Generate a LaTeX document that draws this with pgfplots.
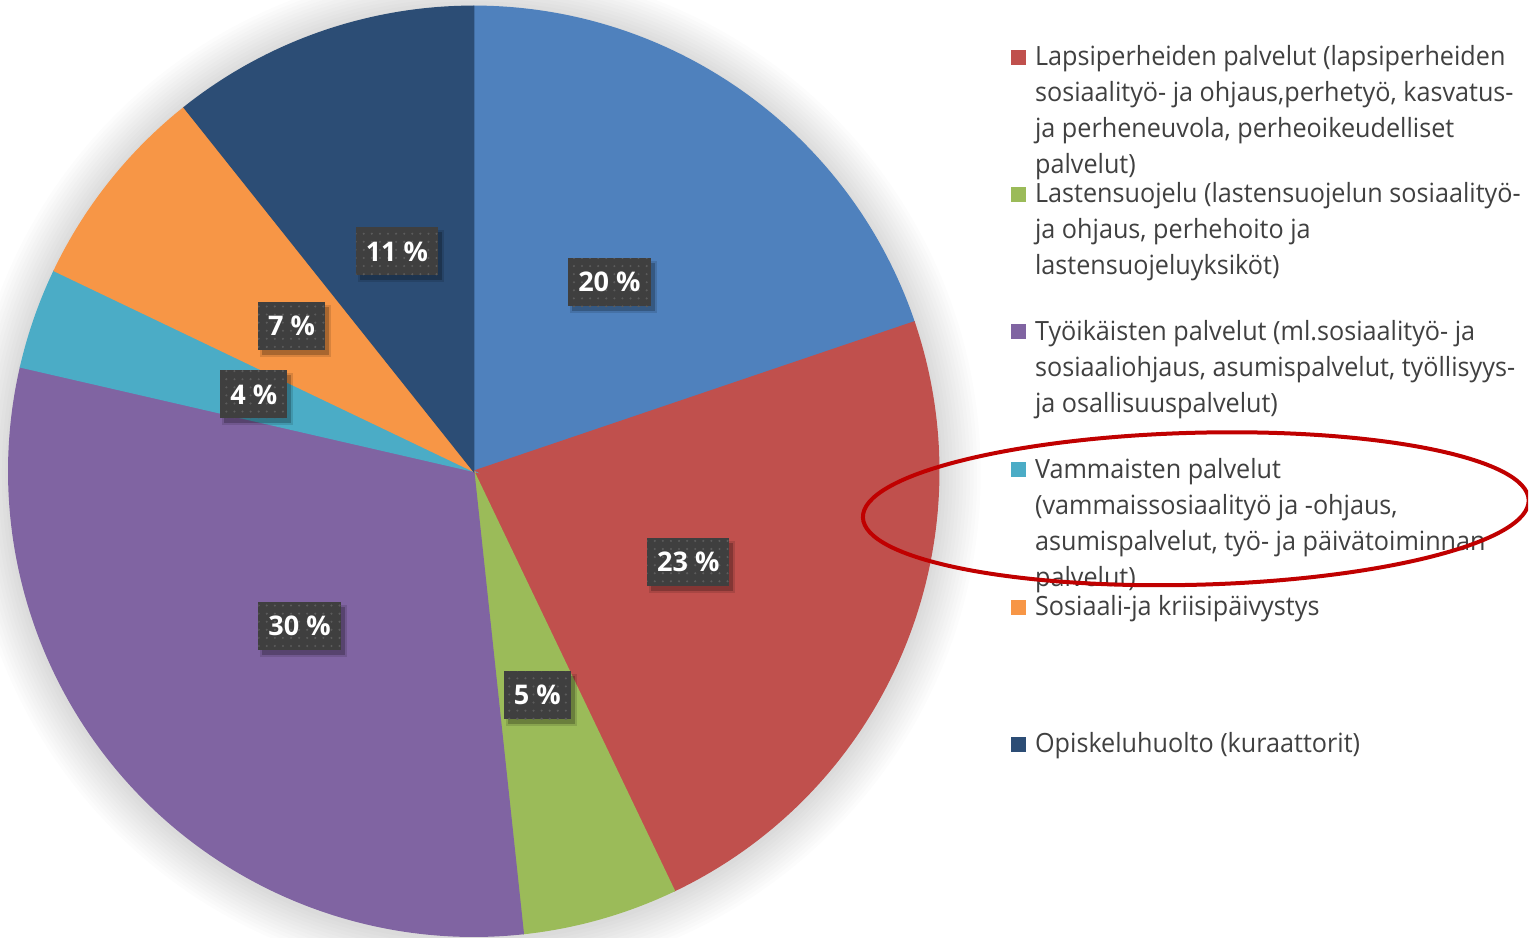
\documentclass[border=0pt]{standalone}
\usepackage{fontspec}
\setmainfont{Open Sans}
\newfontfamily\legff[FakeStretch=0.95]{Open Sans}
\usepackage{pgfplots}
\pgfplotsset{compat=1.18}
\usepackage{pgfplotstable}
\usetikzlibrary{patterns.meta}

\definecolor{sc0}{HTML}{4F81BD}
\definecolor{sc1}{HTML}{C0504D}
\definecolor{sc2}{HTML}{9BBB59}
\definecolor{sc3}{HTML}{8064A2}
\definecolor{sc4}{HTML}{4BACC6}
\definecolor{sc5}{HTML}{F79646}
\definecolor{sc6}{HTML}{2C4D75}
\definecolor{legtext}{HTML}{404040}
\definecolor{lblgray}{HTML}{3F3F3F}
\definecolor{lbldot}{HTML}{5C5C5C}
\definecolor{ellred}{HTML}{C00000}

% shares of the pie (percent), clockwise from 12 o'clock
\pgfplotstableread{
share lab
19.8 20
23.1 23
5.4  5
30.3 30
3.5  4
7.2  7
10.7 11
}\piedata

\newcommand\prepPie{%
 \gdef\cum{0}%
 \foreach \i in {0,...,6}{%
  \pgfplotstablegetelem{\i}{share}\of\piedata\let\pv\pgfplotsretval
  \pgfplotstablegetelem{\i}{lab}\of\piedata\let\plab\pgfplotsretval
  \pgfmathsetmacro\psa{90-3.6*\cum}%
  \pgfmathsetmacro\pea{90-3.6*(\cum+\pv)}%
  \pgfmathsetmacro\pma{(\psa+\pea)/2}%
  \pgfmathsetmacro\plx{474+233*cos(\pma)}%
  \pgfmathsetmacro\ply{466+233*sin(\pma)}%
  \pgfmathsetmacro\psx{\plx+4}%
  \pgfmathsetmacro\psy{\ply-5}%
  \pgfmathsetmacro\pnc{\cum+\pv}%
  \expandafter\xdef\csname sa\i\endcsname{\psa}%
  \expandafter\xdef\csname ea\i\endcsname{\pea}%
  \expandafter\xdef\csname lx\i\endcsname{\plx}%
  \expandafter\xdef\csname ly\i\endcsname{\ply}%
  \expandafter\xdef\csname sx\i\endcsname{\psx}%
  \expandafter\xdef\csname sy\i\endcsname{\psy}%
  \expandafter\xdef\csname lab\i\endcsname{\plab}%
  \xdef\cum{\pnc}%
 }}
\prepPie

\newcommand\legfont{\legff\fontsize{7.54pt}{10.24pt}\selectfont}
\newcommand\lblfont{\bfseries\fontsize{7.7pt}{9pt}\selectfont}
\newcommand\lline[2]{\node[anchor=base west,inner sep=0pt,text=legtext,font=\legfont] at (axis cs:1035,{937-#1}) {#2};}
\newcommand\lsq[2]{\fill[#1] (axis cs:1012,{937-#2-7.5}) rectangle (axis cs:1027,{937-#2+7.5});}
\tikzset{lblbox/.style={font=\lblfont, minimum height=0.48cm, inner xsep=0.1cm, inner ysep=0pt}}

\begin{document}
\begin{tikzpicture}
\begin{axis}[hide axis, x=0.01cm, y=0.01cm, xmin=0, xmax=1529, ymin=0, ymax=937,
  clip=true, anchor=south west, at={(0,0)}]
% soft outer shadow of the pie
\pgfplotsinvokeforeach{1,...,12}{\fill[black,opacity=0.012] (axis cs:474,464) circle[radius={4.65cm+#1*0.035cm}];}
% wedges
\pgfplotsinvokeforeach{0,...,6}{\filldraw[sc#1, line width=0.4pt] (axis cs:474,466) -- ++(\csname sa#1\endcsname:4.65cm) arc[start angle=\csname sa#1\endcsname, end angle=\csname ea#1\endcsname, radius=4.65cm] -- cycle;}
% data label shadows
\pgfplotsinvokeforeach{0,...,6}{\node[lblbox, fill=black, fill opacity=0.12, text opacity=0, minimum height=0.52cm, inner xsep=0.12cm]
  at (axis cs:\csname sx#1\endcsname,\csname sy#1\endcsname) {\csname lab#1\endcsname~\%};
  \node[lblbox, fill=black, fill opacity=0.22, text opacity=0]
  at (axis cs:\csname sx#1\endcsname,\csname sy#1\endcsname) {\csname lab#1\endcsname~\%};}
% data labels
\pgfplotsinvokeforeach{0,...,6}{\node[lblbox, preaction={fill=lblgray}, pattern={Dots[distance=2.3pt, radius=0.33pt]}, pattern color=lbldot, text=white]
  at (axis cs:\csname lx#1\endcsname,\csname ly#1\endcsname) {\csname lab#1\endcsname~\%};}
% legend
\lsq{sc1}{56.5}
\lline{65}{Lapsiperheiden palvelut (lapsiperheiden}
\lline{101}{sosiaalityö- ja ohjaus,perhetyö, kasvatus-}
\lline{137}{ja perheneuvola, perheoikeudelliset}
\lline{173}{palvelut)}
\lsq{sc2}{194}
\lline{202.5}{Lastensuojelu (lastensuojelun sosiaalityö-}
\lline{238.5}{ja ohjaus, perhehoito ja}
\lline{274.5}{lastensuojeluyksiköt)}
\lsq{sc3}{331}
\lline{340}{Työikäisten palvelut (ml.sosiaalityö- ja}
\lline{376}{sosiaaliohjaus, asumispalvelut, työllisyys-}
\lline{412}{ja osallisuuspalvelut)}
\lsq{sc4}{469.5}
\lline{478}{Vammaisten palvelut}
\lline{514}{(vammaissosiaalityö ja -ohjaus,}
\lline{550}{asumispalvelut, työ- ja päivätoiminnan}
\lline{586}{palvelut)}
\lsq{sc5}{607}
\lline{615.5}{Sosiaali-ja kriisipäivystys}
\lsq{sc6}{744}
\lline{752.5}{Opiskeluhuolto (kuraattorit)}
% highlight ellipse
\draw[ellred, line width=0.04cm, rotate around={1.5:(axis cs:1196.5,428.5)}] (axis cs:1196.5,428.5) ellipse[x radius=3.33cm, y radius=0.76cm];
\end{axis}
\pgfresetboundingbox
\path[use as bounding box] (0,0) rectangle (15.29cm,9.37cm);
\end{tikzpicture}
\end{document}
